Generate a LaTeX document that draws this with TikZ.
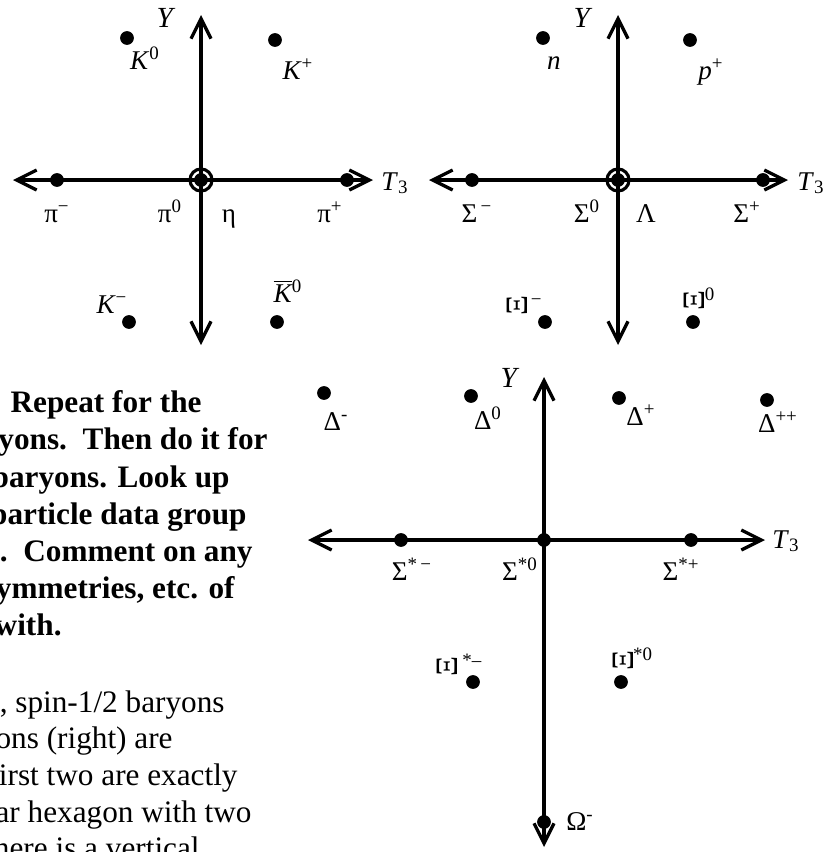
\documentclass[tikz,border=0pt]{standalone}
\usepackage{fontspec}
\setmainfont{Liberation Serif}
\usepackage{tikz}
\usetikzlibrary{arrows.meta}

\newcommand{\xiturned}{\scalebox{1.15}{\rotatebox{90}{Ξ}}}

\begin{document}
\begin{tikzpicture}[
    x=0.48pt, y=-0.48pt,
    axis/.style={{Straight Barb[length=9.6pt,width=9.6pt]}-{Straight Barb[length=9.6pt,width=9.6pt]}, line width=1.6pt},
    particle/.style={circle, fill=black, inner sep=0pt, minimum size=6.6pt},
    ring/.style={circle, draw, line width=1.5pt, inner sep=0pt, minimum size=10.6pt},
    lbl/.style={anchor=base, inner sep=0pt, font=\fontsize{13}{15}\selectfont},
    axisname/.style={lbl, font=\fontsize{14}{16}\selectfont},
    txt/.style={anchor=base east, inner sep=0pt, font=\fontsize{15}{18}\selectfont},
    question/.style={txt, font=\fontsize{15}{18}\selectfont\bfseries}
  ]
    \useasboundingbox (0,0) rectangle (827,852);
    \clip (0,0) rectangle (827,852);

    % mesons
    \coordinate (mL) at (13,180);
    \coordinate (mR) at (373,180);
    \coordinate (mT) at (201,15);
    \coordinate (mB) at (201,345);
    \draw[axis] (mL) -- (mR);
    \draw[axis] (mB) -- (mT);
    \node[particle] (K0) at (127,38) {};
    \node[particle] (Kp) at (275,40) {};
    \node[particle] (pim) at (57,180) {};
    \node[particle] (pip) at (347,180) {};
    \node[particle] (pi0) at (201,180) {};
    \node[ring] (eta) at (201,180) {};
    \node[particle] (Km) at (129,322) {};
    \node[particle] (K0bar) at (277,322) {};
    \node[axisname] (mY) at (166,27) {\textit{Y}};
    \node[lbl] (mT3) at (395,190) {\textit{T}\textsubscript{3}};
    \node[lbl] (lK0) at (145,69) {\textit{K}\textsuperscript{0}};
    \node[lbl] (lKp) at (298,79) {\textit{K}\textsuperscript{+}};
    \node[lbl] (lpim) at (57,222) {π\textsuperscript{−}};
    \node[lbl] (lpi0) at (170,222) {π\textsuperscript{0}};
    \node[lbl] (leta) at (229,222) {η};
    \node[lbl] (lpip) at (330,222) {π\textsuperscript{+}};
    \node[lbl] (lKm) at (112,313) {\textit{K}\textsuperscript{−}};
    \node[lbl] (lK0bar) at (288,302) {$\overline{\mbox{\itshape K}}$\textsuperscript{0}};

    % spin-1/2 baryons
    \coordinate (bL) at (429,180);
    \coordinate (bR) at (788,180);
    \coordinate (bT) at (618,15);
    \coordinate (bB) at (618,345);
    \draw[axis] (bL) -- (bR);
    \draw[axis] (bB) -- (bT);
    \node[particle] (n) at (543,38) {};
    \node[particle] (p) at (690,40) {};
    \node[particle] (Sm) at (472,180) {};
    \node[particle] (Sp) at (763,180) {};
    \node[particle] (S0) at (618,180) {};
    \node[ring] (Lam) at (618,180) {};
    \node[particle] (Xm) at (545,322) {};
    \node[particle] (X0) at (693,322) {};
    \node[axisname] (bY) at (583,27) {\textit{Y}};
    \node[lbl] (bT3) at (811,190) {\textit{T}\textsubscript{3}};
    \node[lbl] (ln) at (554,69) {\textit{n}};
    \node[lbl] (lp) at (711,79) {\textit{p}\textsuperscript{+}};
    \node[lbl] (lSm) at (477,222) {Σ\textsuperscript{\,−}};
    \node[lbl] (lS0) at (587,222) {Σ\textsuperscript{0}};
    \node[lbl] (lLam) at (646,222) {Λ};
    \node[lbl] (lSp) at (747,222) {Σ\textsuperscript{+}};
    \node[lbl] (lXm) at (525,315) {\xiturned\textsuperscript{\,−}};
    \node[lbl] (lX0) at (700,310) {\xiturned\textsuperscript{0}};

    % spin-3/2 baryons
    \coordinate (dL) at (308,540);
    \coordinate (dR) at (765,540);
    \coordinate (dT) at (544,377);
    \coordinate (dB) at (544,847);
    \draw[axis] (dL) -- (dR);
    \draw[axis] (dB) -- (dT);
    \node[particle] (Dm) at (324,393) {};
    \node[particle] (D0) at (471,396) {};
    \node[particle] (Dp) at (619,398) {};
    \node[particle] (Dpp) at (767,400) {};
    \node[particle] (SSm) at (401,540) {};
    \node[particle] (SS0) at (544,540) {};
    \node[particle] (SSp) at (691,540) {};
    \node[particle] (XXm) at (473,682) {};
    \node[particle] (XX0) at (621,682) {};
    \node[particle] (Om) at (544,822) {};
    \node[axisname] (dY) at (510,387) {\textit{Y}};
    \node[lbl] (dT3) at (786,548) {\textit{T}\textsubscript{3}};
    \node[lbl] (lDm) at (336,430) {Δ\textsuperscript{-}};
    \node[lbl] (lD0) at (488,429) {Δ\textsuperscript{0}};
    \node[lbl] (lDp) at (641,425) {Δ\textsuperscript{+}};
    \node[lbl] (lDpp) at (778,432) {Δ\textsuperscript{++}};
    \node[lbl] (lSSm) at (412,580) {Σ\textsuperscript{*\,−}};
    \node[lbl] (lSS0) at (520,580) {Σ\textsuperscript{*0}};
    \node[lbl] (lSSp) at (681,580) {Σ\textsuperscript{*+}};
    \node[lbl] (lXXm) at (460,676) {\xiturned\,\textsuperscript{*–}};
    \node[lbl] (lXX0) at (633,670) {\xiturned\textsuperscript{*0}};
    \node[lbl] (lOm) at (580,830) {Ω\textsuperscript{-}};

    % text beside the plots
    \node[question] (q1) at (202,412) {Repeat for the};
    \node[question] (q2) at (268,449) {yons.\ \ Then do it for};
    \node[question] (q3) at (230,487) {baryons. Look up};
    \node[question] (q4) at (247,524) {particle data group};
    \node[question] (q5) at (253,561) {.\ \ Comment on any};
    \node[question] (q6) at (235,598) {ymmetries, etc. of};
    \node[question] (q7) at (62,635) {with.};
    \node[txt] (a1) at (225,712) {, spin-1/2 baryons};
    \node[txt] (a2) at (173,748) {ons (right) are};
    \node[txt] (a3) at (238,785) {irst two are exactly};
    \node[txt] (a4) at (252,822) {ar hexagon with two};
    \node[txt] (a5) at (200,858) {here is a vertical};
  \end{tikzpicture}
\end{document}
